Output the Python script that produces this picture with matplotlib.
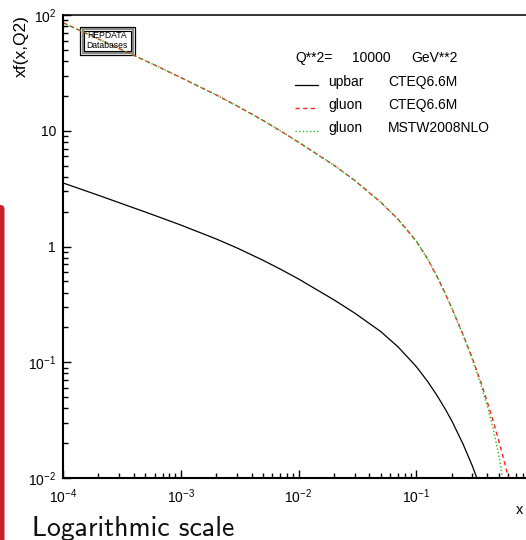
"""PDF comparison at Q**2 = 10000 GeV**2, log-log, HEPDATA style."""

import matplotlib

matplotlib.use("Agg")

import matplotlib.pyplot as plt
from matplotlib.lines import Line2D
from matplotlib.patches import FancyBboxPatch, Rectangle
from matplotlib.ticker import FixedLocator, LogLocator, NullFormatter

# x grid shared by all curves
x_vals = [1e-4, 2e-4, 3e-4, 5e-4, 7e-4, 1e-3, 2e-3, 3e-3, 5e-3, 7e-3, 1e-2, 2e-2, 3e-2, 5e-2, 7e-2,
          0.1, 0.125, 0.15, 0.175, 0.2, 0.25, 0.3, 0.35, 0.4, 0.45, 0.5, 0.55, 0.6, 0.65]

upbar_cteq = [3.54, 2.77, 2.39, 1.985, 1.753, 1.533, 1.162, 0.972, 0.760, 0.638, 0.5245, 0.346, 0.266, 0.184, 0.1359,
              0.0918, 0.0682, 0.0517, 0.0399, 0.0313, 0.0196, 0.01265, 0.00834, 0.00558, 0.0037, 0.0024, 0.0015, 0.0009, 0.0005]
gluon_cteq = [85.7, 62.1, 51.3, 40.3, 34.3, 28.8, 20.4, 16.4, 12.28, 10.0, 7.96, 5.04, 3.72, 2.41, 1.72,
              1.113, 0.779, 0.551, 0.399, 0.295, 0.1727, 0.1076, 0.0693, 0.0458, 0.0311, 0.02125, 0.01479, 0.01044, 0.00746]
gluon_mstw = [85.7, 62.1, 51.3, 40.3, 34.3, 28.8, 20.4, 16.4, 12.28, 10.0, 7.96, 5.04, 3.72, 2.41, 1.72,
              1.113, 0.779, 0.551, 0.399, 0.295, 0.171, 0.1049, 0.0662, 0.0424, 0.0267, 0.01615, 0.00887, 0.00438, 0.0020]

x_ticks = [1e-4, 1e-3, 1e-2, 1e-1]
x_tick_labels = ["$10^{-4}$", "$10^{-3}$", "$10^{-2}$", "$10^{-1}$"]
y_ticks = [1e-2, 1e-1, 1, 10, 100]
y_tick_labels = ["$10^{-2}$", "$10^{-1}$", "1", "10", "$10^{2}$"]

header = ["Q**2=", "10000", "GeV**2"]
curve_names = ["upbar", "gluon", "gluon"]
curve_sets = ["CTEQ6.6M", "CTEQ6.6M", "MSTW2008NLO"]

W, H = 526, 540

plt.rcParams["font.family"] = ["Liberation Sans", "DejaVu Sans"]
plt.rcParams["mathtext.fontset"] = "custom"
plt.rcParams["mathtext.rm"] = "Liberation Sans"
plt.rcParams["mathtext.it"] = "Liberation Sans:italic"


def fx(px):
    return px / W


def fy(py):
    return 1 - py / H


fig = plt.figure(figsize=(W / 100, H / 100), dpi=100)
ax = fig.add_axes([fx(63), fy(478), 471 / W, 463 / H])
ax.set_xscale("log")
ax.set_yscale("log")
ax.set_xlim(1e-4, 1)
ax.set_ylim(1e-2, 1e2)

red_style = dict(color="#ff2020", lw=1.0, dashes=(3, 2.5))
green_style = dict(color="#22bb22", lw=1.0, dashes=(1, 1.6))
black_style = dict(color="black", lw=0.9)

ax.plot(x_vals, upbar_cteq, **black_style)
ax.plot(x_vals, gluon_cteq, **red_style)
ax.plot(x_vals, gluon_mstw, **green_style)

for side in ["left", "bottom"]:
    ax.spines[side].set_linewidth(1.5)
ax.spines["top"].set_linewidth(1.1)
ax.spines["right"].set_visible(False)

ax.xaxis.set_major_locator(FixedLocator(x_ticks))
ax.set_xticklabels(x_tick_labels)
ax.yaxis.set_major_locator(FixedLocator(y_ticks))
ax.set_yticklabels(y_tick_labels)
ax.xaxis.set_minor_locator(LogLocator(base=10, subs=range(2, 10)))
ax.yaxis.set_minor_locator(LogLocator(base=10, subs=range(2, 10)))
ax.xaxis.set_minor_formatter(NullFormatter())
ax.yaxis.set_minor_formatter(NullFormatter())
ax.tick_params(which="both", direction="in", top=False, right=False, width=1.0, labelsize=10)
ax.tick_params(which="major", length=6)
ax.tick_params(which="minor", length=3.5)
ax.tick_params(axis="y", pad=5)
ax.tick_params(axis="x", pad=7)

fig.text(fx(21), fy(15), "xf(x,Q2)", rotation=90, ha="center", va="top", fontsize=12.5)
fig.text(fx(520), fy(510), "x", ha="center", va="center", fontsize=10.5)

# header and legend block
fs = 10
fig.text(fx(295), fy(58), header[0], ha="left", va="center", fontsize=fs)
fig.text(fx(352), fy(58), header[1], ha="left", va="center", fontsize=fs)
fig.text(fx(411), fy(58), header[2], ha="left", va="center", fontsize=fs)
row_y = [82, 105, 128]
for name, pdf_set, ypix, style in zip(curve_names, curve_sets, row_y, [black_style, red_style, green_style]):
    ax.add_line(Line2D([fx(295), fx(318)], [fy(ypix + 3), fy(ypix + 3)], transform=fig.transFigure,
                       clip_on=False, **style))
    fig.text(fx(328), fy(ypix), name, ha="left", va="center", fontsize=fs)
    fig.text(fx(388), fy(ypix), pdf_set, ha="left", va="center", fontsize=fs)

# HEPDATA logo box
ax.add_patch(Rectangle((fx(80), fy(55)), 55 / W, 28 / H, transform=fig.transFigure,
                       facecolor="none", edgecolor="black", lw=0.9, clip_on=False, zorder=1))
ax.add_patch(Rectangle((fx(82.5), fy(52.5)), 50 / W, 23 / H, transform=fig.transFigure,
                       facecolor="none", edgecolor="#888888", lw=1.6, clip_on=False, zorder=1))
ax.add_patch(Rectangle((fx(84), fy(51)), 47 / W, 20 / H, transform=fig.transFigure,
                       facecolor="none", edgecolor="black", lw=0.8, clip_on=False, zorder=1))
fig.text(fx(107), fy(36), "HEPDATA", ha="center", va="center", fontsize=6.2)
fig.text(fx(107), fy(46), "Databases", ha="center", va="center", fontsize=6.2)

fig.text(fx(32), fy(536), "Logarithmic scale", ha="left", va="baseline", fontsize=20,
         family="cmss10", color="#111111")

# red slide bar on left edge
fig.patches.append(FancyBboxPatch((fx(-6), fy(560)), 10.5 / W, 355 / H, transform=fig.transFigure,
                                  boxstyle="round,pad=0,rounding_size=0.008", facecolor="#c8202a",
                                  edgecolor="none", figure=fig))

fig.savefig("out.png", dpi=100)
plt.close(fig)
